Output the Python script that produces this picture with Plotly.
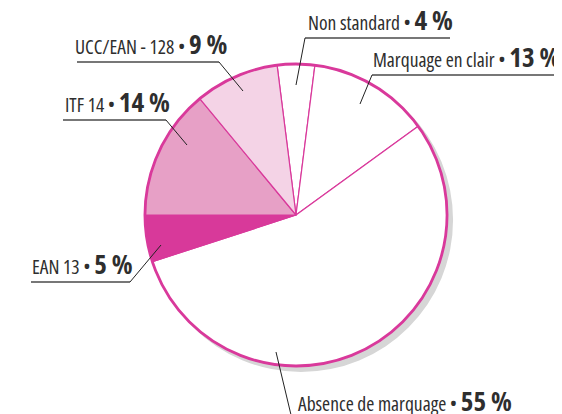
import plotly.graph_objects as go

# ---- data ----
categories = ["Non standard", "Marquage en clair", "Absence de marquage", "EAN 13", "ITF 14", "UCC/EAN - 128"]
values = [4, 13, 55, 5, 14, 9]
slice_colors = ["#ffffff", "#ffffff", "#ffffff", "#d8399a", "#e7a0c6", "#f4d3e6"]

# ---- layout constants (pixels in the 562x414 window) ----
W, H = 562, 414
OFF = 8  # default page body margin
FW, FH = W - OFF, H - OFF
CX, CY, R = 296, 215, 151
SHADOW_DX, SHADOW_DY = 5, 5
PINK = "#d9399b"
TEXT = "#2e2e2e"
FONT = "Open Sans, Roboto, sans-serif"

def px(x):
    return (x - OFF) / FW

def py(y):
    return 1 - (y - OFF) / FH

def dom(cx, cy, r):
    return dict(x=[px(cx - r), px(cx + r)], y=[py(cy + r), py(cy - r)])

# label placement: text-left x, underline y, underline x range, leader attach (x,y), leader inner point (x,y)
label_layout = {
    "Non standard": dict(tx=307, uy=38, ux0=305, ux1=450, ax=305, ay=38, lx=296, ly=85),
    "Marquage en clair": dict(tx=372, uy=75, ux0=372, ux1=556, ax=372, ay=75, lx=360, ly=104),
    "Absence de marquage": dict(tx=297, uy=419, ux0=292, ux1=510, ax=292, ay=419, lx=276, ly=352),
    "EAN 13": dict(tx=31, uy=282, ux0=31, ux1=130, ax=130, ay=282, lx=161, ly=245),
    "ITF 14": dict(tx=64, uy=120, ux0=63, ux1=166, ax=166, ay=120, lx=187, ly=145),
    "UCC/EAN - 128": dict(tx=74, uy=62, ux0=77, ux1=219, ax=219, ay=62, lx=243, ly=91),
}

fig = go.Figure()

# shadow
fig.add_trace(go.Pie(values=[1], labels=["shadow"], marker=dict(colors=["#d6d6d6"], line=dict(width=0)),
                     textinfo="none", hoverinfo="skip", sort=False,
                     domain=dom(CX + SHADOW_DX, CY + SHADOW_DY, R + 1)))

# main pie
fig.add_trace(go.Pie(values=values, labels=categories, sort=False, direction="clockwise",
                     rotation=-7.2,
                     marker=dict(colors=slice_colors, line=dict(color=PINK, width=1.2)),
                     textinfo="none", hoverinfo="label+percent",
                     domain=dom(CX, CY, R)))

# outer ring
fig.add_trace(go.Pie(values=[1], labels=["ring"], sort=False,
                     marker=dict(colors=["rgba(0,0,0,0)"], line=dict(color=PINK, width=2.8)),
                     textinfo="none", hoverinfo="skip",
                     domain=dom(CX, CY, R)))

shapes = []
annotations = []
for cat, val in zip(categories, values):
    L = label_layout[cat]
    shapes.append(dict(type="line", xref="paper", yref="paper",
                       x0=px(L["ux0"]), x1=px(L["ux1"]), y0=py(L["uy"]), y1=py(L["uy"]),
                       line=dict(color="#4a4a4a", width=1.4)))
    shapes.append(dict(type="line", xref="paper", yref="paper",
                       x0=px(L["ax"]), x1=px(L["lx"]), y0=py(L["ay"]), y1=py(L["ly"]),
                       line=dict(color="#222222", width=1)))
    annotations.append(dict(
        xref="paper", yref="paper", x=px(L["tx"]), y=py(L["uy"] + 1),
        xanchor="left", yanchor="bottom", showarrow=False,
        text=(f"<span style='font-stretch:75%'>{cat} • </span>"
              f"<b><span style='font-size:27px;font-stretch:75%'>{val} %</span></b>"),
        font=dict(family=FONT, size=19.5, color=TEXT), borderpad=0))

fig.update_layout(width=FW, height=FH, margin=dict(l=0, r=0, t=0, b=0),
                  paper_bgcolor="white", plot_bgcolor="white", showlegend=False,
                  shapes=shapes, annotations=annotations)

fig.write_html("out.html")
